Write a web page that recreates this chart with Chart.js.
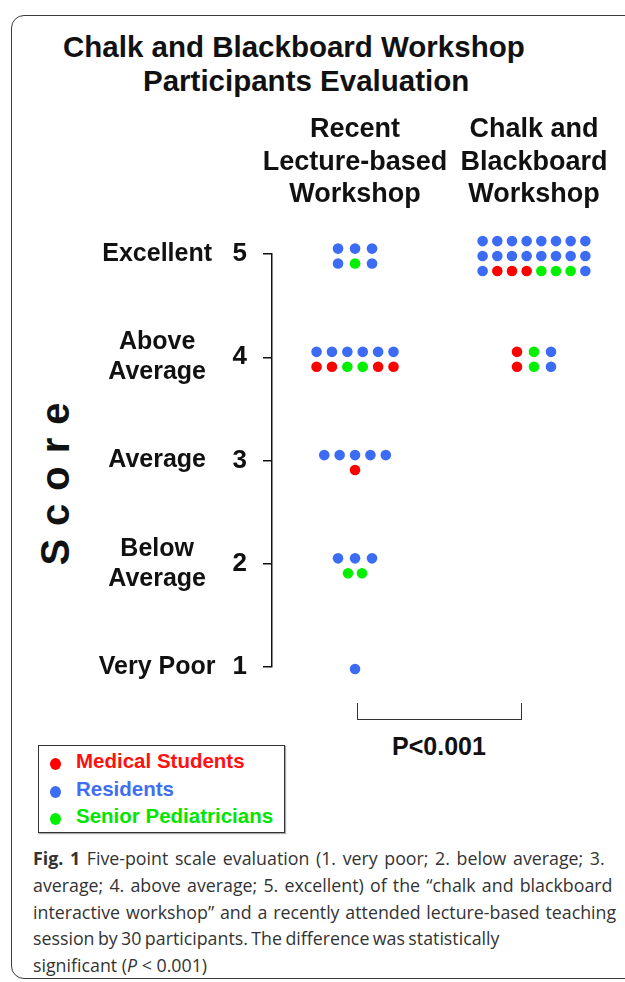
<!DOCTYPE html>
<html>
<head>
<meta charset="utf-8">
<script src="https://cdn.jsdelivr.net/npm/chart.js@4.4.1/dist/chart.umd.min.js"></script>
<style>
  body { margin: 0; width: 625px; height: 982px; overflow: hidden; background: #fff; position: relative; }
  #frame { position: absolute; left: 11px; top: 15px; width: 640px; height: 962px; border: 1.5px solid #3a3a3a; border-radius: 13px; }
  .title { position: absolute; font: bold 29.5px "Liberation Sans", Arial, sans-serif; line-height: 29.5px; color: #111; white-space: nowrap; }
  #score { position: absolute; left: -42px; top: 458.5px; width: 200px; height: 50px; line-height: 50px; text-align: center;
           font: bold 40px "Liberation Sans", Arial, sans-serif; letter-spacing: 13px; padding-left: 13px; box-sizing: border-box;
           color: #111; transform: rotate(-90deg); }
  #chart { position: absolute; left: 0; top: 0; width: 625px; height: 700px; }
  #bracket { position: absolute; left: 357px; top: 703px; width: 165px; height: 17px; border: 1.5px solid #333; border-top: none; box-sizing: border-box; }
  #pval { position: absolute; left: 339px; top: 734px; width: 200px; text-align: center; font: bold 25px "Liberation Sans", Arial, sans-serif; line-height: 25px; color: #111; }
  #legend { position: absolute; left: 38px; top: 745px; width: 247px; height: 88px; border: 1.5px solid #333; box-sizing: border-box; box-shadow: 1px 1px 1px #aaa; }
  .item { position: absolute; left: 0; height: 27.5px; line-height: 27.5px; font: bold 20.5px "Liberation Sans", Arial, sans-serif; white-space: nowrap; }
  .item i { position: absolute; left: 11px; top: 9px; width: 11px; height: 12px; border-radius: 50%; }
  .item span { position: absolute; left: 37px; }
  #caption { position: absolute; left: 33px; top: 845px; font: 17.8px "Open Sans", sans-serif; line-height: 26.8px; color: #333; white-space: nowrap; }
  #caption span { display: block; }
</style>
</head>
<body>
<div id="frame"></div>
<div class="title" style="left:63px;top:32px">Chalk and Blackboard Workshop</div>
<div class="title" style="left:143px;top:66px">Participants Evaluation</div>
<div id="score">Score</div>
<canvas id="chart" width="625" height="700"></canvas>
<div id="bracket"></div>
<div id="pval">P&lt;0.001</div>
<div id="legend"></div>
<div id="caption"><span style="word-spacing:2px"><b>Fig. 1</b> Five-point scale evaluation (1. very poor; 2. below average; 3.</span><span style="word-spacing:1.6px">average; 4. above average; 5. excellent) of the “chalk and blackboard</span><span style="word-spacing:1.2px">interactive workshop” and a recently attended lecture-based teaching</span><span style="word-spacing:-1.2px">session by 30 participants. The difference was statistically</span><span>significant (<i>P</i> &lt; 0.001)</span></div>
<script>
const groupNames = ['Medical Students', 'Residents', 'Senior Pediatricians'];
const groupCodes = ['R', 'B', 'G'];
const groupColors = ['#ff0000', '#3c6cf4', '#00f000'];
const legendColors = ['#ff1010', '#3f6ef0', '#00e600'];
const workshops = [['Recent', 'Lecture-based', 'Workshop'], ['Chalk and', 'Blackboard', 'Workshop']];
const scoreValues = [1, 2, 3, 4, 5];
const scoreNames = ['Very Poor', ['Below', 'Average'], 'Average', ['Above', 'Average'], 'Excellent'];

// one letter per participant, rows listed top to bottom, index = score - 1
// R = medical student, B = resident, G = senior pediatrician
const lectureRows = [
    ['B'],
    ['BBB', 'GG'],
    ['BBBBB', 'R'],
    ['BBBBBB', 'RRGGRR'],
    ['BBB', 'BGB']
];
const chalkRows = [
    [],
    [],
    [],
    ['RGB', 'RGB'],
    ['BBBBBBBB', 'BBBBBBBB', 'BRRRGGGB']
];

const fontFamily = '"Liberation Sans", Arial, sans-serif';

// Spread the dots of one score around its column/score position
function dotPoints(rowsByScore, column, code) {
    const pts = [];
    rowsByScore.forEach((rows, s) => {
        rows.forEach((row, r) => {
            const n = row.length;
            const gap = n >= 7 ? 0.082 : n >= 4 ? 0.086 : n === 3 ? 0.095 : 0.078;
            const dy = ((rows.length - 1) / 2 - r) * 0.145;
            for (let i = 0; i < n; i++) {
                if (row[i] !== code) continue;
                pts.push({ x: column + (i - (n - 1) / 2) * gap, y: scoreValues[s] + dy - 0.02 });
            }
        });
    });
    return pts;
}

function fixedTicks(values) {
    return scale => { scale.ticks = values.map(v => ({ value: v })); };
}

const datasets = groupNames.map((name, g) => ({
    label: name,
    data: dotPoints(lectureRows, 1, groupCodes[g]).concat(dotPoints(chalkRows, 2, groupCodes[g])),
    backgroundColor: groupColors[g],
    // invisible wide border: keeps the rows above score 5 from being skipped as "outside the area"
    borderColor: 'rgba(0,0,0,0)',
    borderWidth: 24,
    pointRadius: 5.3,
    clip: false
}));

new Chart(document.getElementById('chart').getContext('2d'), {
    type: 'scatter',
    data: { datasets: datasets },
    options: {
        responsive: false,
        animation: false,
        events: [],
        layout: { autoPadding: false, padding: { left: 98, top: 94, right: 13, bottom: 33 } },
        plugins: { legend: { display: false }, tooltip: { enabled: false } },
        scales: {
            x: {
                type: 'linear',
                position: 'top',
                min: 0.536,
                max: 2.436,
                afterBuildTicks: fixedTicks([1, 2]),
                afterFit: scale => {
                    scale.height = 160;
                    // header labels may overhang; do not shrink the plot for them
                    scale.paddingLeft = 0;
                    scale.paddingRight = 0;
                },
                grid: { display: false, drawTicks: false },
                border: { display: false },
                ticks: {
                    callback: v => workshops[v - 1],
                    font: { family: fontFamily, size: 27, weight: 'bold', lineHeight: 1.2 },
                    color: '#111',
                    padding: 43,
                    maxRotation: 0,
                    autoSkip: false
                }
            },
            y: {
                type: 'linear',
                position: 'left',
                weight: 0,
                min: 1,
                max: 5,
                afterBuildTicks: fixedTicks(scoreValues),
                afterFit: scale => { scale.width = 40; },
                grid: { drawOnChartArea: false, tickLength: 9, color: '#111', lineWidth: 1.5 },
                border: { color: '#111', width: 1.5 },
                ticks: {
                    callback: v => String(v),
                    font: { family: fontFamily, size: 26, weight: 'bold' },
                    color: '#111',
                    padding: 16
                }
            },
            yWords: {
                type: 'linear',
                position: 'left',
                weight: 1,
                min: 1,
                max: 5,
                afterBuildTicks: fixedTicks(scoreValues),
                afterFit: scale => { scale.width = 134; },
                grid: { display: false, drawTicks: false },
                border: { display: false },
                ticks: {
                    callback: v => scoreNames[v - 1],
                    crossAlign: 'center',
                    font: { family: fontFamily, size: 25, weight: 'bold', lineHeight: 1.2 },
                    color: '#111',
                    padding: 16.5
                }
            }
        }
    }
});

// Legend box built from the same group arrays
const legend = document.getElementById('legend');
groupNames.forEach((name, g) => {
    const item = document.createElement('div');
    item.className = 'item';
    item.style.top = (3 + g * 27.5) + 'px';
    item.style.color = legendColors[g];
    item.innerHTML = '<i style="background:' + groupColors[g] + '"></i><span>' + name + '</span>';
    legend.appendChild(item);
});
</script>
</body>
</html>
